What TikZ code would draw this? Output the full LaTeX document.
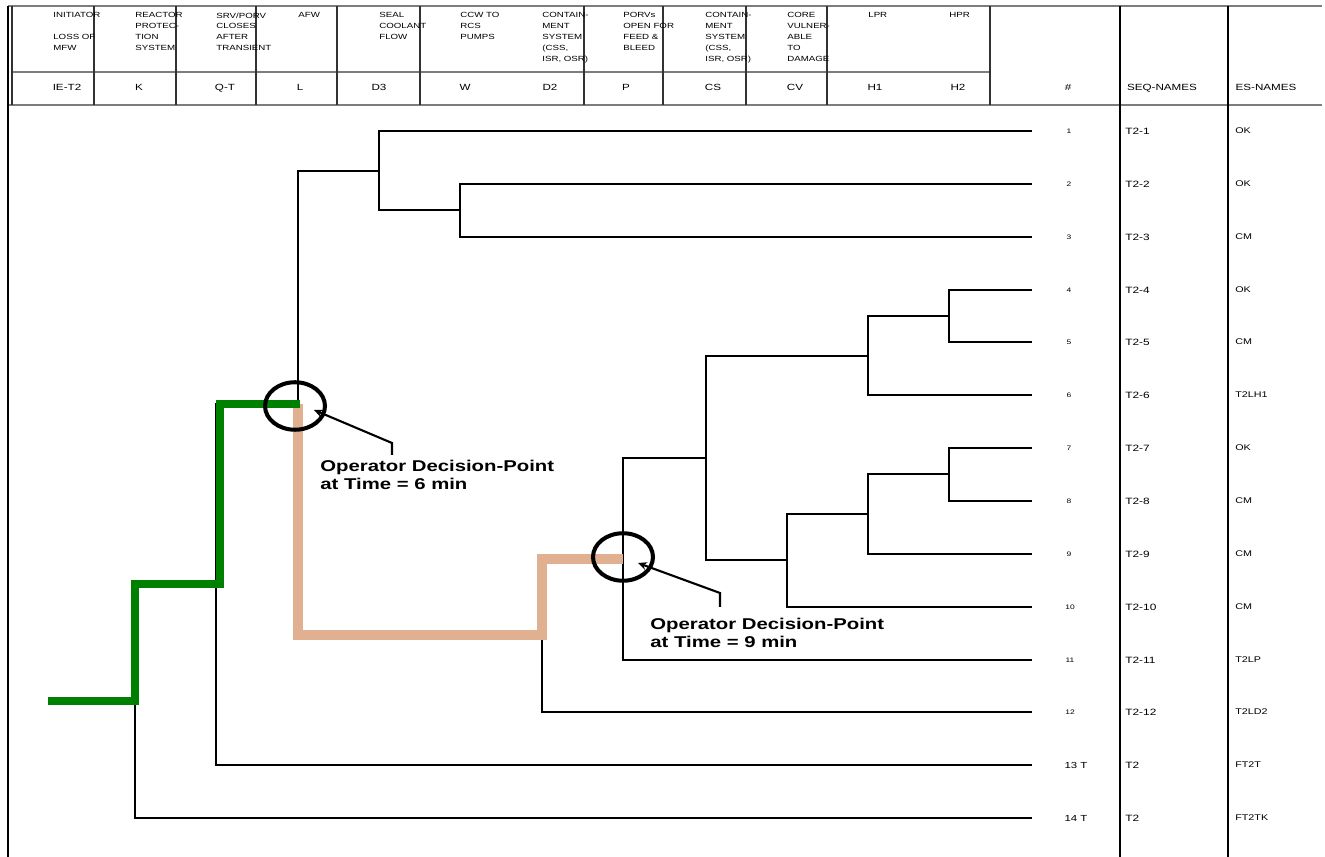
\documentclass[tikz,border=0pt]{standalone}
\usepackage{fontspec}
\setmainfont{Liberation Sans}
\newfontfamily\chartfont[FakeStretch=1.3]{Liberation Sans}
\usepackage{tikz}
\usetikzlibrary{arrows.meta,calc,shapes.geometric}
\definecolor{pathOk}{RGB}{0,128,0}
\definecolor{pathFail}{RGB}{225,176,145}
\definecolor{ruleGray}{RGB}{125,125,125}
\definecolor{ruleDark}{RGB}{50,50,50}

\begin{document}
\begin{tikzpicture}[
    x=0.02cm, y=-0.02cm,
    branch/.style={line width=1.15pt, draw=black},
    okpath/.style={line width=4.8pt, draw=pathOk},
    failpath/.style={line width=5.2pt, draw=pathFail},
    hdrrule/.style={line width=1.1pt, draw=ruleGray},
    colrule/.style={line width=0.8pt, draw=ruleDark},
    border/.style={line width=0.9pt, draw=black},
    hdr/.style={
      anchor=north west,
      inner sep=0pt,
      align=left,
      font=\chartfont\fontsize{4.25}{6.15}\selectfont
    },
    code/.style={anchor=base, inner sep=0pt, font=\chartfont\fontsize{5.1}{6}\selectfont},
    seqno/.style={inner sep=0pt, font=\chartfont\fontsize{3.7}{4}\selectfont},
    seqnoT/.style={inner sep=0pt, font=\chartfont\fontsize{5}{6}\selectfont},
    seqname/.style={anchor=west, inner sep=0pt, font=\chartfont\fontsize{5.2}{6}\selectfont},
    esname/.style={anchor=west, inner sep=0pt, font=\chartfont\fontsize{4.7}{6}\selectfont},
    dpring/.style={
      ellipse,
      draw=black,
      line width=2.3pt,
      minimum width=1.2cm,
      minimum height=0.95cm,
      inner sep=0pt
    },
    pointer/.style={line width=1.2pt, -{Stealth[length=5pt,width=4.5pt]}},
    oplabel/.style={
      anchor=north west,
      inner sep=0pt,
      align=left,
      font=\chartfont\bfseries\fontsize{8.9}{10.2}\selectfont
    }
  ]
    \useasboundingbox (0,0) rectangle (1325,857);

    % table frame
    \draw[hdrrule] (8,6) -- (1322,6) (12,72) -- (990,72) (8,105) -- (1322,105);
    \draw[colrule] (12,6) -- (12,105) (94,6) -- (94,105) (176,6) -- (176,105)
      (256,6) -- (256,105) (337,6) -- (337,105) (420,6) -- (420,105)
      (584,6) -- (584,105) (663,6) -- (663,105) (746,6) -- (746,105)
      (827,6) -- (827,105) (990,6) -- (990,105);
    \draw[border] (8,6) -- (8,857) (1120,6) -- (1120,857) (1228,6) -- (1228,857);

    % event headings
    \node[hdr] (hIE) at (53,12.3) {INITIATOR\\ \\LOSS OF\\MFW};
    \node[hdr] (hK) at (135,12.3) {REACTOR\\PROTEC-\\TION\\SYSTEM};
    \node[hdr] (hQT) at (216,12.3) {SRV/PORV\\CLOSES\\AFTER\\TRANSIENT};
    \node[hdr] (hL) at (298,12.3) {AFW};
    \node[hdr] (hDt) at (379,12.3) {SEAL\\COOLANT\\FLOW};
    \node[hdr] (hW) at (460,12.3) {CCW TO\\RCS\\PUMPS};
    \node[hdr] (hDd) at (542,12.3) {CONTAIN-\\MENT\\SYSTEM\\(CSS,\\ISR, OSR)};
    \node[hdr] (hP) at (623,12.3) {PORVs\\OPEN FOR\\FEED \&\\BLEED};
    \node[hdr] (hCS) at (705,12.3) {CONTAIN-\\MENT\\SYSTEM\\(CSS,\\ISR, OSR)};
    \node[hdr] (hCV) at (787,12.3) {CORE\\VULNER-\\ABLE\\TO\\DAMAGE};
    \node[hdr] (hHa) at (868,12.3) {LPR};
    \node[hdr] (hHb) at (949,12.3) {HPR};

    \node[code] (cIE) at (67,91) {IE-T2};
    \node[code] (cK) at (139,91) {K};
    \node[code] (cQT) at (225,91) {Q-T};
    \node[code] (cL) at (300,91) {L};
    \node[code] (cDt) at (379,91) {D3};
    \node[code] (cW) at (465,91) {W};
    \node[code] (cDd) at (550,91) {D2};
    \node[code] (cP) at (626,91) {P};
    \node[code] (cCS) at (713,91) {CS};
    \node[code] (cCV) at (795,91) {CV};
    \node[code] (cHa) at (875,91) {H1};
    \node[code] (cHb) at (958,91) {H2};
    \node[code] (cNo) at (1068,91) {\#};
    \node[code] (cSeq) at (1162,91) {SEQ-NAMES};
    \node[code] (cEs) at (1266,91) {ES-NAMES};

    % branch points
    \coordinate (ie) at (48,701);
    \coordinate (k) at (135,701);
    \coordinate (qt) at (216,584);
    \coordinate (l) at (298,404);
    \coordinate (d3) at (379,171);
    \coordinate (w) at (460,210);
    \coordinate (d2) at (542,635);
    \coordinate (p) at (623,559);
    \coordinate (cs) at (706,458);
    \coordinate (hla) at (868,356);
    \coordinate (hha) at (949,316);
    \coordinate (cv) at (787,560);
    \coordinate (hlb) at (868,514);
    \coordinate (hhb) at (949,474);

    % sequence ends
    \coordinate (s1) at (1032,131);  \node[seqno] (n1) at (1069,131) {1};   \node[seqname] (q1) at (1125,131) {T2-1};   \node[esname] (e1) at (1235,131) {OK};
    \coordinate (s2) at (1032,184);  \node[seqno] (n2) at (1069,184) {2};   \node[seqname] (q2) at (1125,184) {T2-2};   \node[esname] (e2) at (1235,184) {OK};
    \coordinate (s3) at (1032,237);  \node[seqno] (n3) at (1069,237) {3};   \node[seqname] (q3) at (1125,237) {T2-3};   \node[esname] (e3) at (1235,237) {CM};
    \coordinate (s4) at (1032,290);  \node[seqno] (n4) at (1069,290) {4};   \node[seqname] (q4) at (1125,290) {T2-4};   \node[esname] (e4) at (1235,290) {OK};
    \coordinate (s5) at (1032,342);  \node[seqno] (n5) at (1069,342) {5};   \node[seqname] (q5) at (1125,342) {T2-5};   \node[esname] (e5) at (1235,342) {CM};
    \coordinate (s6) at (1032,395);  \node[seqno] (n6) at (1069,395) {6};   \node[seqname] (q6) at (1125,395) {T2-6};   \node[esname] (e6) at (1235,395) {T2LH1};
    \coordinate (s7) at (1032,448);  \node[seqno] (n7) at (1069,448) {7};   \node[seqname] (q7) at (1125,448) {T2-7};   \node[esname] (e7) at (1235,448) {OK};
    \coordinate (s8) at (1032,501);  \node[seqno] (n8) at (1069,501) {8};   \node[seqname] (q8) at (1125,501) {T2-8};   \node[esname] (e8) at (1235,501) {CM};
    \coordinate (s9) at (1032,554);  \node[seqno] (n9) at (1069,554) {9};   \node[seqname] (q9) at (1125,554) {T2-9};   \node[esname] (e9) at (1235,554) {CM};
    \coordinate (s10) at (1032,607); \node[seqno] (n10) at (1070,607) {10}; \node[seqname] (q10) at (1125,607) {T2-10}; \node[esname] (e10) at (1235,607) {CM};
    \coordinate (s11) at (1032,660); \node[seqno] (n11) at (1070,660) {11}; \node[seqname] (q11) at (1125,660) {T2-11}; \node[esname] (e11) at (1235,660) {T2LP};
    \coordinate (s12) at (1032,712); \node[seqno] (n12) at (1070,712) {12}; \node[seqname] (q12) at (1125,712) {T2-12}; \node[esname] (e12) at (1235,712) {T2LD2};
    \coordinate (s13) at (1032,765); \node[seqnoT] (n13) at (1076,765) {13 T}; \node[seqname] (q13) at (1125,765) {T2}; \node[esname] (e13) at (1235,765) {FT2T};
    \coordinate (s14) at (1032,818); \node[seqnoT] (n14) at (1076,818) {14 T}; \node[seqname] (q14) at (1125,818) {T2}; \node[esname] (e14) at (1235,818) {FT2TK};

    % event tree
    \draw[branch] (ie) -- (k);
    \draw[branch] (qt) -| (k) |- (s14);
    \draw[branch] (l) -| (qt) |- (s13);
    \draw[branch] (d3) -| (l) |- (d2);
    \draw[branch] (s1) -| (d3) |- (w);
    \draw[branch] (s2) -| (w) |- (s3);
    \draw[branch] (p) -| (d2) |- (s12);
    \draw[branch] (cs) -| (p) |- (s11);
    \draw[branch] (hla) -| (cs) |- (cv);
    \draw[branch] (hha) -| (hla) |- (s6);
    \draw[branch] (s4) -| (hha) |- (s5);
    \draw[branch] (hlb) -| (cv) |- (s10);
    \draw[branch] (hhb) -| (hlb) |- (s9);
    \draw[branch] (s7) -| (hhb) |- (s8);

    % highlighted paths
    \draw[failpath] (l) |- (d2) |- (p);
    \draw[okpath] (ie) -- (k) |- ($(qt)+(4,0)$) |- ($(l)+(2,0)$);

    % decision points
    \node[dpring] (dp1) at (295,406) {};
    \node[dpring] (dp2) at (623,557) {};

    \coordinate (tip1) at (314,410);
    \coordinate (bend1) at (392,443);
    \coordinate (foot1) at (392,455);
    \draw[pointer] (foot1) -- (bend1) -- (tip1);
    \node[oplabel] (op1) at (320,459.5) {Operator Decision-Point\\at Time = 6 min};

    \coordinate (tip2) at (638,563);
    \coordinate (bend2) at (720,593);
    \coordinate (foot2) at (720,607);
    \draw[pointer] (foot2) -- (bend2) -- (tip2);
    \node[oplabel] (op2) at (650,617.5) {Operator Decision-Point\\at Time = 9 min};
\end{tikzpicture}
\end{document}
